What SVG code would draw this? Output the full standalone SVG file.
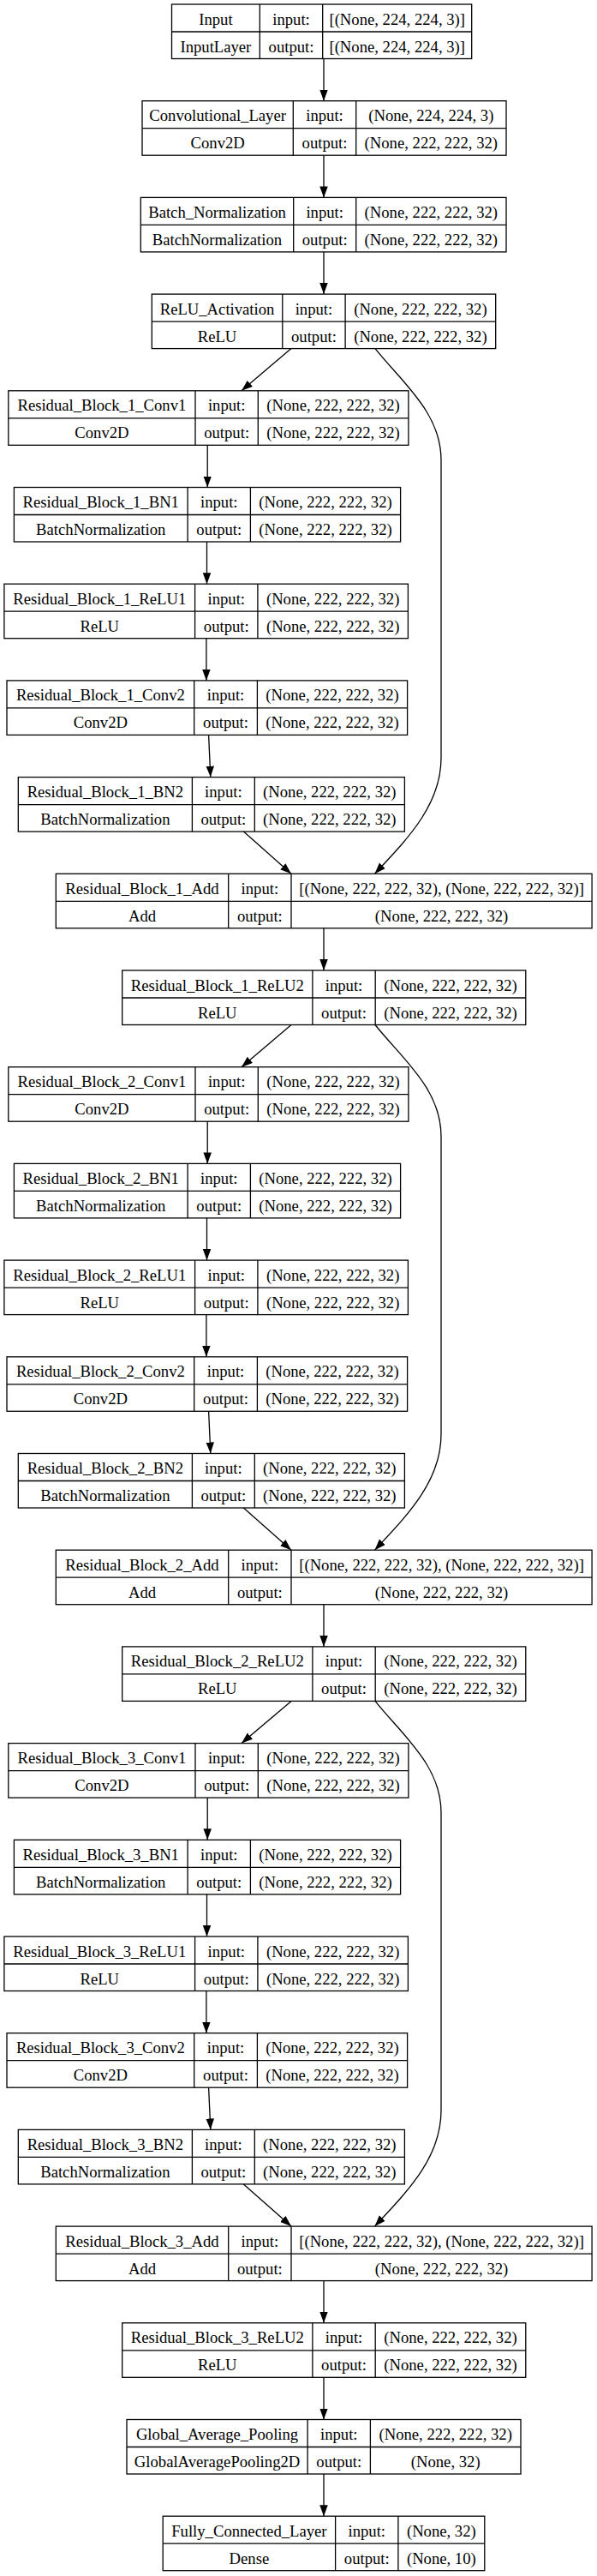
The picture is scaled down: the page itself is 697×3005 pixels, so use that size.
<svg xmlns="http://www.w3.org/2000/svg" width="697" height="3005" viewBox="0 0 697 3005">
<style>
.b{fill:none;stroke:#000;stroke-width:1.3}
.l{stroke:#000;stroke-width:1.3}
text{font-family:"Liberation Serif","Times New Roman",serif;font-size:18.67px;text-anchor:middle;fill:#000}
.e{fill:none;stroke:#000;stroke-width:1.3;marker-end:url(#ah)}
</style>
<defs>
<marker id="ah" markerUnits="userSpaceOnUse" markerWidth="14" markerHeight="10" refX="13" refY="4.75" orient="auto"><path d="M0,0 L13,4.75 L0,9.5 z" fill="#000"/></marker>
</defs>
<rect width="697" height="3005" fill="#fff"/>
<g id="connectors">
<path class="e" d="M378,68.5 L378,117.7"/>
<path class="e" d="M378,181.2 L378,230.4"/>
<path class="e" d="M378,293.9 L378,343.1"/>
<path class="e" d="M340,406.6 L282,455.8"/>
<path class="e" d="M242.2,519.3 L242.2,568.5"/>
<path class="e" d="M241.5,632 L241.5,681.2"/>
<path class="e" d="M240.9,744.7 L240.9,793.9"/>
<path class="e" d="M243.6,857.4 L245.8,906.6"/>
<path class="e" d="M284.4,970.1 L340,1019.3"/>
<path class="e" d="M378,1082.8 L378,1132"/>
<path class="e" d="M438,406.6 C470,446.6 515,481.6 515,536.6 L515,884.3 C515,939.3 475,979.3 437.5,1019.3"/>
<path class="e" d="M340,1195.5 L282,1244.7"/>
<path class="e" d="M242.2,1308.2 L242.2,1357.4"/>
<path class="e" d="M241.5,1420.9 L241.5,1470.1"/>
<path class="e" d="M240.9,1533.6 L240.9,1582.8"/>
<path class="e" d="M243.6,1646.3 L245.8,1695.5"/>
<path class="e" d="M284.4,1759 L340,1808.2"/>
<path class="e" d="M378,1871.7 L378,1920.9"/>
<path class="e" d="M438,1195.5 C470,1235.5 515,1270.5 515,1325.5 L515,1673.2 C515,1728.2 475,1768.2 437.5,1808.2"/>
<path class="e" d="M340,1984.4 L282,2033.6"/>
<path class="e" d="M242.2,2097.1 L242.2,2146.3"/>
<path class="e" d="M241.5,2209.8 L241.5,2259"/>
<path class="e" d="M240.9,2322.5 L240.9,2371.7"/>
<path class="e" d="M243.6,2435.2 L245.8,2484.4"/>
<path class="e" d="M284.4,2547.9 L340,2597.1"/>
<path class="e" d="M378,2660.6 L378,2709.8"/>
<path class="e" d="M438,1984.4 C470,2024.4 515,2059.4 515,2114.4 L515,2462.1 C515,2517.1 475,2557.1 437.5,2597.1"/>
<path class="e" d="M378,2773.3 L378,2822.5"/>
<path class="e" d="M378,2886 L378,2935.2"/>
</g>
<g id="n_input" transform="translate(0,5)"><rect class="b" x="200.5" y="0" width="350.2" height="63.5"/><line class="l" x1="200.5" y1="32" x2="550.7" y2="32"/><line class="l" x1="303.3" y1="0" x2="303.3" y2="63.5"/><line class="l" x1="376.7" y1="0" x2="376.7" y2="63.5"/><text x="251.9" y="23.5">Input</text><text x="340" y="23.5">input:</text><text x="463.7" y="23.5">[(None, 224, 224, 3)]</text><text x="251.9" y="55.5">InputLayer</text><text x="340" y="55.5">output:</text><text x="463.7" y="55.5">[(None, 224, 224, 3)]</text></g>
<g id="n_conv" transform="translate(0,117.7)"><rect class="b" x="166" y="0" width="425" height="63.5"/><line class="l" x1="166" y1="32" x2="591" y2="32"/><line class="l" x1="342.3" y1="0" x2="342.3" y2="63.5"/><line class="l" x1="415.7" y1="0" x2="415.7" y2="63.5"/><text x="254.15" y="23.5">Convolutional_Layer</text><text x="379" y="23.5">input:</text><text x="503.35" y="23.5">(None, 224, 224, 3)</text><text x="254.15" y="55.5">Conv2D</text><text x="379" y="55.5">output:</text><text x="503.35" y="55.5">(None, 222, 222, 32)</text></g>
<g id="n_bn" transform="translate(0,230.4)"><rect class="b" x="164.3" y="0" width="426.7" height="63.5"/><line class="l" x1="164.3" y1="32" x2="591" y2="32"/><line class="l" x1="342.7" y1="0" x2="342.7" y2="63.5"/><line class="l" x1="415.7" y1="0" x2="415.7" y2="63.5"/><text x="253.5" y="23.5">Batch_Normalization</text><text x="379.2" y="23.5">input:</text><text x="503.35" y="23.5">(None, 222, 222, 32)</text><text x="253.5" y="55.5">BatchNormalization</text><text x="379.2" y="55.5">output:</text><text x="503.35" y="55.5">(None, 222, 222, 32)</text></g>
<g id="n_relu" transform="translate(0,343.1)"><rect class="b" x="177.3" y="0" width="401.4" height="63.5"/><line class="l" x1="177.3" y1="32" x2="578.7" y2="32"/><line class="l" x1="329.8" y1="0" x2="329.8" y2="63.5"/><line class="l" x1="403.1" y1="0" x2="403.1" y2="63.5"/><text x="253.55" y="23.5">ReLU_Activation</text><text x="366.45" y="23.5">input:</text><text x="490.9" y="23.5">(None, 222, 222, 32)</text><text x="253.55" y="55.5">ReLU</text><text x="366.45" y="55.5">output:</text><text x="490.9" y="55.5">(None, 222, 222, 32)</text></g>

<g id="n_rb1_conv1" transform="translate(0,455.8)"><rect class="b" x="9.8" y="0" width="467.1" height="63.5"/><line class="l" x1="9.8" y1="32" x2="476.9" y2="32"/><line class="l" x1="228" y1="0" x2="228" y2="63.5"/><line class="l" x1="301.3" y1="0" x2="301.3" y2="63.5"/><text x="118.9" y="23.5">Residual_Block_1_Conv1</text><text x="264.65" y="23.5">input:</text><text x="389.1" y="23.5">(None, 222, 222, 32)</text><text x="118.9" y="55.5">Conv2D</text><text x="264.65" y="55.5">output:</text><text x="389.1" y="55.5">(None, 222, 222, 32)</text></g>
<g id="n_rb1_bn1" transform="translate(0,568.5)"><rect class="b" x="16.4" y="0" width="451.2" height="63.5"/><line class="l" x1="16.4" y1="32" x2="467.6" y2="32"/><line class="l" x1="219.1" y1="0" x2="219.1" y2="63.5"/><line class="l" x1="292.4" y1="0" x2="292.4" y2="63.5"/><text x="117.75" y="23.5">Residual_Block_1_BN1</text><text x="255.75" y="23.5">input:</text><text x="380" y="23.5">(None, 222, 222, 32)</text><text x="117.75" y="55.5">BatchNormalization</text><text x="255.75" y="55.5">output:</text><text x="380" y="55.5">(None, 222, 222, 32)</text></g>
<g id="n_rb1_relu1" transform="translate(0,681.2)"><rect class="b" x="4.9" y="0" width="471.5" height="63.5"/><line class="l" x1="4.9" y1="32" x2="476.4" y2="32"/><line class="l" x1="227.6" y1="0" x2="227.6" y2="63.5"/><line class="l" x1="300.9" y1="0" x2="300.9" y2="63.5"/><text x="116.25" y="23.5">Residual_Block_1_ReLU1</text><text x="264.25" y="23.5">input:</text><text x="388.65" y="23.5">(None, 222, 222, 32)</text><text x="116.25" y="55.5">ReLU</text><text x="264.25" y="55.5">output:</text><text x="388.65" y="55.5">(None, 222, 222, 32)</text></g>
<g id="n_rb1_conv2" transform="translate(0,793.9)"><rect class="b" x="8" y="0" width="467.6" height="63.5"/><line class="l" x1="8" y1="32" x2="475.6" y2="32"/><line class="l" x1="226.7" y1="0" x2="226.7" y2="63.5"/><line class="l" x1="300.4" y1="0" x2="300.4" y2="63.5"/><text x="117.35" y="23.5">Residual_Block_1_Conv2</text><text x="263.55" y="23.5">input:</text><text x="388" y="23.5">(None, 222, 222, 32)</text><text x="117.35" y="55.5">Conv2D</text><text x="263.55" y="55.5">output:</text><text x="388" y="55.5">(None, 222, 222, 32)</text></g>
<g id="n_rb1_bn2" transform="translate(0,906.6)"><rect class="b" x="21.3" y="0" width="451.1" height="63.5"/><line class="l" x1="21.3" y1="32" x2="472.4" y2="32"/><line class="l" x1="224.4" y1="0" x2="224.4" y2="63.5"/><line class="l" x1="297.3" y1="0" x2="297.3" y2="63.5"/><text x="122.85" y="23.5">Residual_Block_1_BN2</text><text x="260.85" y="23.5">input:</text><text x="384.85" y="23.5">(None, 222, 222, 32)</text><text x="122.85" y="55.5">BatchNormalization</text><text x="260.85" y="55.5">output:</text><text x="384.85" y="55.5">(None, 222, 222, 32)</text></g>
<g id="n_rb1_add" transform="translate(0,1019.3)"><rect class="b" x="65.3" y="0" width="625.8" height="63.5"/><line class="l" x1="65.3" y1="32" x2="691.1" y2="32"/><line class="l" x1="266.7" y1="0" x2="266.7" y2="63.5"/><line class="l" x1="340" y1="0" x2="340" y2="63.5"/><text x="166" y="23.5">Residual_Block_1_Add</text><text x="303.35" y="23.5">input:</text><text x="515.55" y="23.5">[(None, 222, 222, 32), (None, 222, 222, 32)]</text><text x="166" y="55.5">Add</text><text x="303.35" y="55.5">output:</text><text x="515.55" y="55.5">(None, 222, 222, 32)</text></g>
<g id="n_rb1_relu2" transform="translate(0,1132)"><rect class="b" x="142.7" y="0" width="471.1" height="63.5"/><line class="l" x1="142.7" y1="32" x2="613.8" y2="32"/><line class="l" x1="364.9" y1="0" x2="364.9" y2="63.5"/><line class="l" x1="438.2" y1="0" x2="438.2" y2="63.5"/><text x="253.8" y="23.5">Residual_Block_1_ReLU2</text><text x="401.55" y="23.5">input:</text><text x="526" y="23.5">(None, 222, 222, 32)</text><text x="253.8" y="55.5">ReLU</text><text x="401.55" y="55.5">output:</text><text x="526" y="55.5">(None, 222, 222, 32)</text></g>

<g id="n_rb2_conv1" transform="translate(0,1244.7)"><rect class="b" x="9.8" y="0" width="467.1" height="63.5"/><line class="l" x1="9.8" y1="32" x2="476.9" y2="32"/><line class="l" x1="228" y1="0" x2="228" y2="63.5"/><line class="l" x1="301.3" y1="0" x2="301.3" y2="63.5"/><text x="118.9" y="23.5">Residual_Block_2_Conv1</text><text x="264.65" y="23.5">input:</text><text x="389.1" y="23.5">(None, 222, 222, 32)</text><text x="118.9" y="55.5">Conv2D</text><text x="264.65" y="55.5">output:</text><text x="389.1" y="55.5">(None, 222, 222, 32)</text></g>
<g id="n_rb2_bn1" transform="translate(0,1357.4)"><rect class="b" x="16.4" y="0" width="451.2" height="63.5"/><line class="l" x1="16.4" y1="32" x2="467.6" y2="32"/><line class="l" x1="219.1" y1="0" x2="219.1" y2="63.5"/><line class="l" x1="292.4" y1="0" x2="292.4" y2="63.5"/><text x="117.75" y="23.5">Residual_Block_2_BN1</text><text x="255.75" y="23.5">input:</text><text x="380" y="23.5">(None, 222, 222, 32)</text><text x="117.75" y="55.5">BatchNormalization</text><text x="255.75" y="55.5">output:</text><text x="380" y="55.5">(None, 222, 222, 32)</text></g>
<g id="n_rb2_relu1" transform="translate(0,1470.1)"><rect class="b" x="4.9" y="0" width="471.5" height="63.5"/><line class="l" x1="4.9" y1="32" x2="476.4" y2="32"/><line class="l" x1="227.6" y1="0" x2="227.6" y2="63.5"/><line class="l" x1="300.9" y1="0" x2="300.9" y2="63.5"/><text x="116.25" y="23.5">Residual_Block_2_ReLU1</text><text x="264.25" y="23.5">input:</text><text x="388.65" y="23.5">(None, 222, 222, 32)</text><text x="116.25" y="55.5">ReLU</text><text x="264.25" y="55.5">output:</text><text x="388.65" y="55.5">(None, 222, 222, 32)</text></g>
<g id="n_rb2_conv2" transform="translate(0,1582.8)"><rect class="b" x="8" y="0" width="467.6" height="63.5"/><line class="l" x1="8" y1="32" x2="475.6" y2="32"/><line class="l" x1="226.7" y1="0" x2="226.7" y2="63.5"/><line class="l" x1="300.4" y1="0" x2="300.4" y2="63.5"/><text x="117.35" y="23.5">Residual_Block_2_Conv2</text><text x="263.55" y="23.5">input:</text><text x="388" y="23.5">(None, 222, 222, 32)</text><text x="117.35" y="55.5">Conv2D</text><text x="263.55" y="55.5">output:</text><text x="388" y="55.5">(None, 222, 222, 32)</text></g>
<g id="n_rb2_bn2" transform="translate(0,1695.5)"><rect class="b" x="21.3" y="0" width="451.1" height="63.5"/><line class="l" x1="21.3" y1="32" x2="472.4" y2="32"/><line class="l" x1="224.4" y1="0" x2="224.4" y2="63.5"/><line class="l" x1="297.3" y1="0" x2="297.3" y2="63.5"/><text x="122.85" y="23.5">Residual_Block_2_BN2</text><text x="260.85" y="23.5">input:</text><text x="384.85" y="23.5">(None, 222, 222, 32)</text><text x="122.85" y="55.5">BatchNormalization</text><text x="260.85" y="55.5">output:</text><text x="384.85" y="55.5">(None, 222, 222, 32)</text></g>
<g id="n_rb2_add" transform="translate(0,1808.2)"><rect class="b" x="65.3" y="0" width="625.8" height="63.5"/><line class="l" x1="65.3" y1="32" x2="691.1" y2="32"/><line class="l" x1="266.7" y1="0" x2="266.7" y2="63.5"/><line class="l" x1="340" y1="0" x2="340" y2="63.5"/><text x="166" y="23.5">Residual_Block_2_Add</text><text x="303.35" y="23.5">input:</text><text x="515.55" y="23.5">[(None, 222, 222, 32), (None, 222, 222, 32)]</text><text x="166" y="55.5">Add</text><text x="303.35" y="55.5">output:</text><text x="515.55" y="55.5">(None, 222, 222, 32)</text></g>
<g id="n_rb2_relu2" transform="translate(0,1920.9)"><rect class="b" x="142.7" y="0" width="471.1" height="63.5"/><line class="l" x1="142.7" y1="32" x2="613.8" y2="32"/><line class="l" x1="364.9" y1="0" x2="364.9" y2="63.5"/><line class="l" x1="438.2" y1="0" x2="438.2" y2="63.5"/><text x="253.8" y="23.5">Residual_Block_2_ReLU2</text><text x="401.55" y="23.5">input:</text><text x="526" y="23.5">(None, 222, 222, 32)</text><text x="253.8" y="55.5">ReLU</text><text x="401.55" y="55.5">output:</text><text x="526" y="55.5">(None, 222, 222, 32)</text></g>

<g id="n_rb3_conv1" transform="translate(0,2033.6)"><rect class="b" x="9.8" y="0" width="467.1" height="63.5"/><line class="l" x1="9.8" y1="32" x2="476.9" y2="32"/><line class="l" x1="228" y1="0" x2="228" y2="63.5"/><line class="l" x1="301.3" y1="0" x2="301.3" y2="63.5"/><text x="118.9" y="23.5">Residual_Block_3_Conv1</text><text x="264.65" y="23.5">input:</text><text x="389.1" y="23.5">(None, 222, 222, 32)</text><text x="118.9" y="55.5">Conv2D</text><text x="264.65" y="55.5">output:</text><text x="389.1" y="55.5">(None, 222, 222, 32)</text></g>
<g id="n_rb3_bn1" transform="translate(0,2146.3)"><rect class="b" x="16.4" y="0" width="451.2" height="63.5"/><line class="l" x1="16.4" y1="32" x2="467.6" y2="32"/><line class="l" x1="219.1" y1="0" x2="219.1" y2="63.5"/><line class="l" x1="292.4" y1="0" x2="292.4" y2="63.5"/><text x="117.75" y="23.5">Residual_Block_3_BN1</text><text x="255.75" y="23.5">input:</text><text x="380" y="23.5">(None, 222, 222, 32)</text><text x="117.75" y="55.5">BatchNormalization</text><text x="255.75" y="55.5">output:</text><text x="380" y="55.5">(None, 222, 222, 32)</text></g>
<g id="n_rb3_relu1" transform="translate(0,2259)"><rect class="b" x="4.9" y="0" width="471.5" height="63.5"/><line class="l" x1="4.9" y1="32" x2="476.4" y2="32"/><line class="l" x1="227.6" y1="0" x2="227.6" y2="63.5"/><line class="l" x1="300.9" y1="0" x2="300.9" y2="63.5"/><text x="116.25" y="23.5">Residual_Block_3_ReLU1</text><text x="264.25" y="23.5">input:</text><text x="388.65" y="23.5">(None, 222, 222, 32)</text><text x="116.25" y="55.5">ReLU</text><text x="264.25" y="55.5">output:</text><text x="388.65" y="55.5">(None, 222, 222, 32)</text></g>
<g id="n_rb3_conv2" transform="translate(0,2371.7)"><rect class="b" x="8" y="0" width="467.6" height="63.5"/><line class="l" x1="8" y1="32" x2="475.6" y2="32"/><line class="l" x1="226.7" y1="0" x2="226.7" y2="63.5"/><line class="l" x1="300.4" y1="0" x2="300.4" y2="63.5"/><text x="117.35" y="23.5">Residual_Block_3_Conv2</text><text x="263.55" y="23.5">input:</text><text x="388" y="23.5">(None, 222, 222, 32)</text><text x="117.35" y="55.5">Conv2D</text><text x="263.55" y="55.5">output:</text><text x="388" y="55.5">(None, 222, 222, 32)</text></g>
<g id="n_rb3_bn2" transform="translate(0,2484.4)"><rect class="b" x="21.3" y="0" width="451.1" height="63.5"/><line class="l" x1="21.3" y1="32" x2="472.4" y2="32"/><line class="l" x1="224.4" y1="0" x2="224.4" y2="63.5"/><line class="l" x1="297.3" y1="0" x2="297.3" y2="63.5"/><text x="122.85" y="23.5">Residual_Block_3_BN2</text><text x="260.85" y="23.5">input:</text><text x="384.85" y="23.5">(None, 222, 222, 32)</text><text x="122.85" y="55.5">BatchNormalization</text><text x="260.85" y="55.5">output:</text><text x="384.85" y="55.5">(None, 222, 222, 32)</text></g>
<g id="n_rb3_add" transform="translate(0,2597.1)"><rect class="b" x="65.3" y="0" width="625.8" height="63.5"/><line class="l" x1="65.3" y1="32" x2="691.1" y2="32"/><line class="l" x1="266.7" y1="0" x2="266.7" y2="63.5"/><line class="l" x1="340" y1="0" x2="340" y2="63.5"/><text x="166" y="23.5">Residual_Block_3_Add</text><text x="303.35" y="23.5">input:</text><text x="515.55" y="23.5">[(None, 222, 222, 32), (None, 222, 222, 32)]</text><text x="166" y="55.5">Add</text><text x="303.35" y="55.5">output:</text><text x="515.55" y="55.5">(None, 222, 222, 32)</text></g>
<g id="n_rb3_relu2" transform="translate(0,2709.8)"><rect class="b" x="142.7" y="0" width="471.1" height="63.5"/><line class="l" x1="142.7" y1="32" x2="613.8" y2="32"/><line class="l" x1="364.9" y1="0" x2="364.9" y2="63.5"/><line class="l" x1="438.2" y1="0" x2="438.2" y2="63.5"/><text x="253.8" y="23.5">Residual_Block_3_ReLU2</text><text x="401.55" y="23.5">input:</text><text x="526" y="23.5">(None, 222, 222, 32)</text><text x="253.8" y="55.5">ReLU</text><text x="401.55" y="55.5">output:</text><text x="526" y="55.5">(None, 222, 222, 32)</text></g>

<g id="n_gap" transform="translate(0,2822.5)"><rect class="b" x="148" y="0" width="460" height="63.5"/><line class="l" x1="148" y1="32" x2="608" y2="32"/><line class="l" x1="359.1" y1="0" x2="359.1" y2="63.5"/><line class="l" x1="432.4" y1="0" x2="432.4" y2="63.5"/><text x="253.55" y="23.5">Global_Average_Pooling</text><text x="395.75" y="23.5">input:</text><text x="520.2" y="23.5">(None, 222, 222, 32)</text><text x="253.55" y="55.5">GlobalAveragePooling2D</text><text x="395.75" y="55.5">output:</text><text x="520.2" y="55.5">(None, 32)</text></g>
<g id="n_dense" transform="translate(0,2935.2)"><rect class="b" x="190.2" y="0" width="375.6" height="63.5"/><line class="l" x1="190.2" y1="32" x2="565.8" y2="32"/><line class="l" x1="391.6" y1="0" x2="391.6" y2="63.5"/><line class="l" x1="464.9" y1="0" x2="464.9" y2="63.5"/><text x="290.9" y="23.5">Fully_Connected_Layer</text><text x="428.25" y="23.5">input:</text><text x="515.35" y="23.5">(None, 32)</text><text x="290.9" y="55.5">Dense</text><text x="428.25" y="55.5">output:</text><text x="515.35" y="55.5">(None, 10)</text></g>
</svg>
